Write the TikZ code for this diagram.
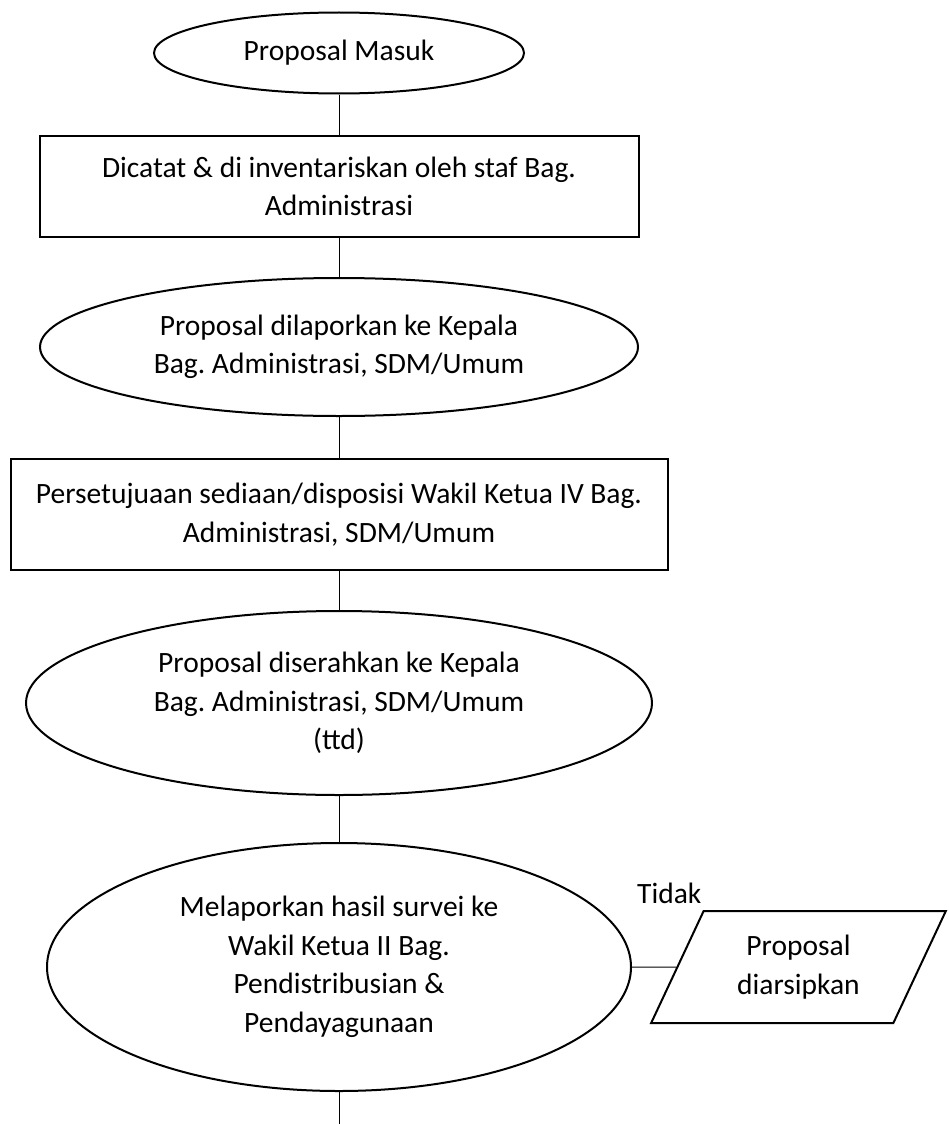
\documentclass[tikz,border=0pt]{standalone}
\usepackage{fontspec}
\setmainfont{Carlito}
\usetikzlibrary{shapes.geometric}
\frenchspacing
\begin{document}
\begin{tikzpicture}[x=1pt,y=-1pt,font=\fontsize{29.5}{38.5}\selectfont,
	oval/.style={draw,ellipse,line width=2pt,inner sep=0pt,align=center},
	box/.style={draw,rectangle,line width=2pt,inner sep=0pt,align=center},
	arsipbox/.style={draw,trapezium,trapezium left angle=62,trapezium right angle=118,
		trapezium stretches=true,line width=2pt,inner sep=0pt,align=center},
	link/.style={line width=1pt}]
		\useasboundingbox (0,0) rectangle (948,1124);
		%steps
		\node[oval,minimum width=370,minimum height=81] (masuk) at (339,53) {Proposal Masuk};
		\node[box,minimum width=599,minimum height=101] (catat) at (339,186.5)
			{Dicatat \& di inventariskan oleh staf Bag.\\Administrasi};
		\node[oval,minimum width=598,minimum height=138] (lapor) at (339,347)
			{Proposal dilaporkan ke Kepala\\Bag. Administrasi, SDM/Umum};
		\node[box,minimum width=657,minimum height=111] (setuju) at (339,514.5)
			{Persetujuaan sediaan/disposisi Wakil Ketua IV Bag.\\Administrasi, SDM/Umum};
		\node[oval,minimum width=626,minimum height=184] (serah) at (339,703)
			{Proposal diserahkan ke Kepala\\Bag. Administrasi, SDM/Umum\\(ttd)};
		\node[oval,minimum width=584,minimum height=248] (survei) at (339,967)
			{Melaporkan hasil survei ke\\Wakil Ketua II Bag.\\Pendistribusian \&\\Pendayagunaan};
		%archive
		\node[arsipbox,minimum width=295,minimum height=112] (arsip) at (798.5,967)
			{Proposal\\diarsipkan};
		\node[anchor=base west,inner sep=0pt] (tidak) at (637,903) {Tidak};
		\coordinate (ujung) at (339,1124);
		%lines
		\draw[link] (masuk) -- (catat);
		\draw[link] (catat) -- (lapor);
		\draw[link] (lapor) -- (setuju);
		\draw[link] (setuju) -- (serah);
		\draw[link] (serah) -- (survei);
		\draw[link] (survei) -- (ujung);
		\draw[link] (survei) -- (arsip);
	\end{tikzpicture}
\end{document}
